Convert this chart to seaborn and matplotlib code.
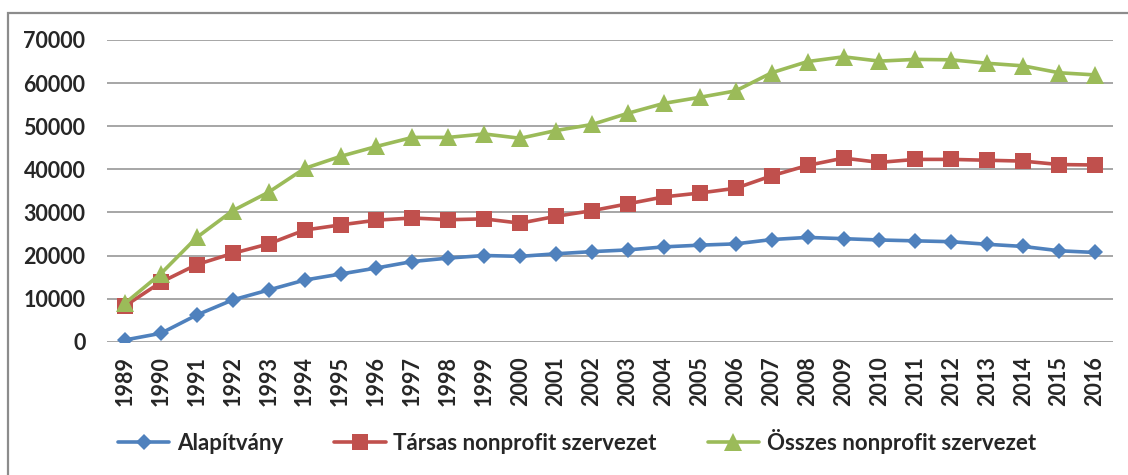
import matplotlib
matplotlib.use("Agg")
import matplotlib.pyplot as plt
import seaborn as sns
from matplotlib.patches import Rectangle

years = list(range(1989, 2017))
alapitvany = [400, 1950, 6200, 9700, 12000, 14300, 15700, 17100, 18600, 19400,
              20000, 19800, 20400, 20900, 21300, 22000, 22400, 22700, 23700, 24200,
              23900, 23600, 23400, 23200, 22600, 22100, 21100, 20700]
tarsas = [8300, 13800, 17900, 20500, 22700, 25900, 27100, 28200, 28700, 28300,
          28500, 27500, 29100, 30400, 32000, 33600, 34500, 35600, 38500, 40900,
          42600, 41600, 42300, 42300, 42100, 41900, 41100, 41000]
osszes = [8900, 15800, 24200, 30400, 34700, 40200, 43000, 45300, 47400, 47400,
          48200, 47200, 49000, 50400, 53000, 55300, 56700, 58200, 62400, 65000,
          66100, 65100, 65500, 65400, 64600, 64000, 62400, 61900]

series = [
    ("Alapítvány", alapitvany, "#4F81BD", "D", 8.5),
    ("Társas nonprofit szervezet", tarsas, "#C0504D", "s", 12),
    ("Összes nonprofit szervezet", osszes, "#9BBB59", "^", 13.5),
]

sns.set_style("white")
plt.rcParams['font.family'] = ['Lato', 'DejaVu Sans']
plt.rcParams['font.weight'] = 'bold'

fig = plt.figure(figsize=(11.28, 4.75), dpi=100)
ax = fig.add_axes([107 / 1128, 1 - 341.7 / 475, (1113 - 107) / 1128, (341.7 - 40) / 475])

for name, vals, color, marker, ms in series:
    sns.lineplot(x=years, y=vals, ax=ax, color=color, linewidth=2.6,
                 marker=marker, markersize=ms, markeredgewidth=0,
                 label=name, legend=False)

ax.set_xlim(1988.5, 2016.5)
ax.set_ylim(0, 70000)
ax.set_yticks(range(0, 70001, 10000))
ax.set_yticklabels([str(v) for v in range(0, 70001, 10000)], fontsize=15.5, fontweight='bold')
ax.set_xticks(years)
ax.set_xticklabels([str(y) for y in years], rotation=90, fontsize=15.5, fontweight='bold')
ax.tick_params(axis='y', length=0, pad=15.5)
ax.tick_params(axis='x', length=0, pad=10.5)
ax.grid(axis='y', color='#A6A6A6', linewidth=1.4)
ax.set_axisbelow(True)
for s in ax.spines.values():
    s.set_visible(False)

handles, labels = ax.get_legend_handles_labels()
fig.legend(handles, labels, loc='center', bbox_to_anchor=(577 / 1128, 1 - 441 / 475),
           ncol=3, frameon=False, handlelength=2.3,
           handletextpad=0.35, columnspacing=2.3, prop={'weight': 'bold', 'size': 16})

fig.patches.append(Rectangle((8 / 1128, -0.1), 1.2, 1.1 - 13 / 475, transform=fig.transFigure,
                             fill=False, edgecolor='#8C8C8C', linewidth=1.6))

plt.savefig("out.png", dpi=100)
plt.close()
